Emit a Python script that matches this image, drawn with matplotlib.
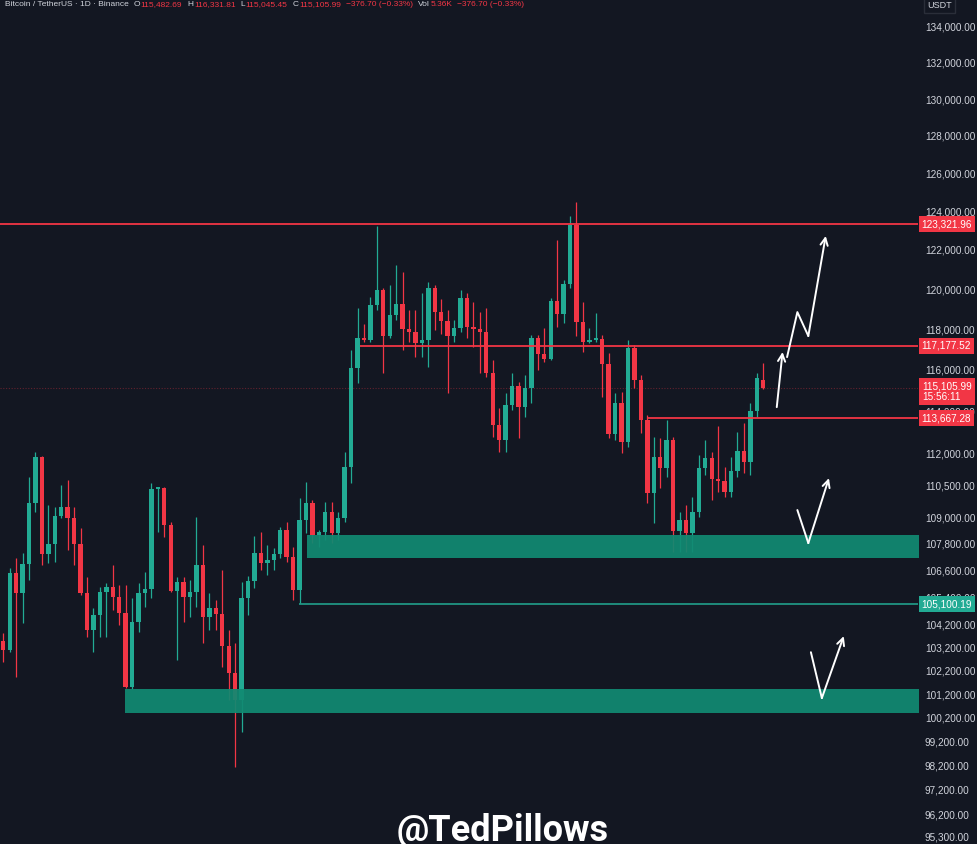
import numpy as np
import matplotlib.pyplot as plt
from matplotlib.ticker import FixedLocator, FuncFormatter, NullLocator

plt.rcParams['font.family'] = ['Liberation Sans', 'DejaVu Sans']

# BTCUSDT daily candles
opens = [103480, 103090, 106490, 105600, 106890, 109670, 111820, 107340, 107800, 109070,
         109490, 108980, 107800, 105600, 103960, 104620, 105640, 105860, 105420, 104710,
         101500, 104310, 105600, 105770, 110320, 110370, 108660, 105680, 106090, 105420,
         105640, 106850, 104530, 104930, 104670, 103270, 102100, 100950, 105370, 106130,
         107390, 106940, 107070, 107340, 108430, 107210, 105730, 108890, 109670, 108210,
         108350, 109260, 108300, 108980, 111350, 116080, 117560, 117460, 119200, 119960,
         117660, 118700, 119250, 118000, 117860, 117310, 117460, 120060, 118850, 118400,
         117660, 118050, 119560, 118100, 118000, 117860, 115840, 113330, 112620, 114290,
         115210, 114190, 115110, 117560, 116770, 116520, 119400, 118750, 120260, 123300,
         118350, 117360, 117460, 117510, 116280, 112900, 114390, 112520, 117070, 115500,
         113570, 110130, 111820, 111300, 112620, 108390, 108890, 108300, 109260, 111300,
         111770, 110780, 110690, 110180, 111160, 112100, 111580, 114000, 115482.69]
highs = [103830, 106710, 107160, 107390, 110880, 112050, 111850, 109580, 109490, 110510,
         110740, 109490, 108520, 106310, 104930, 105860, 106040, 106850, 105950, 105950,
         105370, 106040, 106530, 110600, 110410, 110410, 108800, 106310, 106310, 106170,
         109030, 107750, 105600, 105280, 106620, 103960, 103400, 106090, 106350, 108160,
         108340, 107750, 107610, 108570, 108800, 107660, 109900, 110650, 109810, 108430,
         109720, 109720, 109260, 112050, 116970, 119050, 118250, 119600, 123250, 120060,
         120210, 121230, 120870, 118950, 118950, 119810, 120360, 120210, 119500, 118950,
         118450, 119960, 119810, 119350, 118850, 119050, 116480, 114150, 114870, 115840,
         115400, 115740, 117710, 117710, 118050, 119560, 122510, 120460, 123750, 124470,
         119350, 118050, 118800, 117710, 116820, 114870, 114920, 117460, 117210, 115740,
         113810, 112760, 112710, 113570, 112760, 109260, 109580, 109950, 111910, 112620,
         112050, 113280, 111350, 111820, 113000, 113430, 114390, 115840, 116331.81]
lows = [102570, 103000, 101930, 104270, 106170, 109260, 106850, 106940, 106980, 108980,
        107520, 106850, 105510, 103660, 103000, 103660, 103660, 104840, 104180, 101450,
        101400, 103880, 104970, 105370, 108340, 108110, 105640, 102660, 104310, 104530,
        104970, 103400, 103960, 103960, 102360, 100945, 98140, 99600, 104620, 105820,
        106620, 106400, 106620, 107160, 106980, 105280, 105150, 108300, 107840, 107660,
        107980, 107840, 107980, 108800, 110600, 115350, 117360, 117360, 118950, 115840,
        117560, 118450, 116970, 117360, 116620, 116620, 116130, 117960, 117760, 114870,
        117360, 117860, 117560, 117120, 115840, 115650, 112760, 112050, 112050, 114050,
        112710, 113710, 114390, 115990, 116380, 116480, 118100, 118300, 120060, 117660,
        116870, 117310, 117360, 114680, 112710, 112620, 112000, 112290, 115110, 112950,
        109670, 108750, 110370, 110880, 107430, 107430, 107430, 107430, 109030, 110970,
        109810, 110180, 109950, 109950, 110880, 111070, 110970, 113710, 115045.45]
closes = [103090, 106490, 105600, 106890, 109670, 111820, 107340, 107800, 109070, 109490,
          108980, 107800, 105600, 103960, 104620, 105640, 105860, 105420, 104710, 101500,
          104310, 105600, 105770, 110320, 110370, 108660, 105680, 106090, 105420, 105640,
          106850, 104530, 104930, 104670, 103270, 102100, 100950, 105370, 106130, 107390,
          106940, 107070, 107340, 108430, 107210, 105730, 108890, 109670, 108210, 108350,
          109260, 108300, 108980, 111350, 116080, 117560, 117460, 119200, 119960, 117660,
          118700, 119250, 118000, 117860, 117310, 117460, 120060, 118850, 118400, 117660,
          118050, 119560, 118100, 118000, 117860, 115840, 113330, 112620, 114290, 115210,
          114190, 115110, 117560, 116770, 116520, 119400, 118750, 120260, 123300, 118350,
          117360, 117460, 117510, 116280, 112900, 114390, 112520, 117070, 115500, 113570,
          110130, 111820, 111300, 112620, 108390, 108890, 108300, 109260, 111300, 111770,
          110780, 110690, 110180, 111160, 112100, 111580, 114000, 115600, 115105.99]

y_ticks = [134000, 132000, 130000, 128000, 126000, 124000, 122000, 120000, 118000, 116000,
           114000, 112000, 110500, 109000, 107800, 106600, 105400, 104200, 103200, 102200,
           101200, 100200, 99200, 98200, 97200, 96200, 95300]

# levels drawn on the chart
res_top = 123321.96
res_mid = 117177.52
res_low = 113667.28
last_price = 115105.99
sup_line = 105100.19
zone_hi = (107160, 108200)
zone_lo = (100390, 101410)

# hand drawn arrows (candle index, price)
arrow_a = [(120.1, 114190), (121.0, 116870)]
arrow_b = [(121.7, 116620), (123.3, 118850), (125.0, 117660), (127.7, 122720)]
arrow_c = [(123.3, 109350), (125.0, 107840), (128.2, 110830)]
arrow_d = [(125.4, 103000), (127.1, 101030), (130.5, 103700)]

bg = '#131722'
up = '#22ab94'
down = '#f23645'
zone = '#118a72'
grey = '#d1d4dc'
W, H = 978, 844

fig = plt.figure(figsize=(W / 100, H / 100), dpi=100, facecolor=bg)
ax = fig.add_axes([0, 0, 918 / W, 1])
ax.set_facecolor(bg)
for s in ax.spines.values():
    s.set_visible(False)

o = np.array(opens); h = np.array(highs); l = np.array(lows); c = np.array(closes)
x = np.arange(len(o))
cols = np.where(c >= o, up, down)
bottom = np.minimum(o, c)
height = np.maximum(np.abs(c - o), bottom * 0.0009)
ax.vlines(x, l, h, colors=cols, lw=0.9, zorder=3)
ax.bar(x, height, bottom=bottom, width=0.68, color=cols, zorder=4, linewidth=0)

ax.set_yscale('log')
ax.set_ylim(95014, 135531)
ax.set_xlim(-0.51, 142.03)

# levels
ax.axhline(res_top, color=down, lw=1.3, zorder=5)
ax.hlines(res_mid, 55.4, 143, color=down, lw=1.3, zorder=5)
ax.hlines(res_low, 99.9, 143, color=down, lw=1.3, zorder=5)
ax.axhline(last_price, color=down, lw=0.8, ls=(0, (1, 1.5)), alpha=0.35, zorder=2)
ax.hlines(sup_line, 45.9, 143, color=up, lw=1.1, zorder=5)
ax.fill_between([47.2, 143], zone_hi[0], zone_hi[1], color=zone, lw=0, alpha=0.93, zorder=5)
ax.fill_between([18.9, 143], zone_lo[0], zone_lo[1], color=zone, lw=0, alpha=0.93, zorder=5)

# arrows
for path in [arrow_a, arrow_b, arrow_c, arrow_d]:
    px, py = zip(*path)
    if len(path) > 2:
        ax.plot(px[:-1], py[:-1], color='white', lw=1.4, zorder=6, solid_capstyle='round')
    ax.annotate('', xy=path[-1], xytext=path[-2],
                arrowprops=dict(arrowstyle='->', color='white', lw=1.4,
                                mutation_scale=13, shrinkA=0, shrinkB=0), zorder=6)

# price axis
ax.yaxis.tick_right()
ax.yaxis.set_major_locator(FixedLocator(y_ticks))
ax.yaxis.set_minor_locator(NullLocator())
ax.yaxis.set_major_formatter(FuncFormatter(lambda v, p: f'{v:,.2f}'))
ax.tick_params(axis='y', length=0, pad=5, labelsize=7.2, labelcolor=grey)
ax.set_xticks([])

ytr = ax.get_yaxis_transform()
tag_kw = dict(transform=ytr, ha='left', va='center', color='white', fontsize=7.2,
              clip_on=False, zorder=10)
for val in [res_top, res_mid, res_low]:
    ax.text(1.004, val, f'{val:,.2f}',
            bbox=dict(boxstyle='square,pad=0.3', fc=down, ec='none'), **tag_kw)
ax.text(1.004, sup_line, f'{sup_line:,.2f}',
        bbox=dict(boxstyle='square,pad=0.3', fc=up, ec='none'), **tag_kw)
ax.annotate(f'{last_price:,.2f}\n15:56:11', xy=(1.0, last_price), xycoords=ytr,
            xytext=(3, 5), textcoords='offset points', ha='left', va='top',
            color='white', fontsize=7.2, linespacing=1.05, annotation_clip=False,
            bbox=dict(boxstyle='square,pad=0.3', fc=down, ec='none'), zorder=10)

fig.text(927 / W, 1 - 5 / H, 'USDT', color=grey, fontsize=6.5, va='center',
         bbox=dict(boxstyle='square,pad=0.35', fc=bg, ec='#2a2e39'))

# header, each piece placed right after the previous one
hdr = [('Bitcoin / TetherUS · 1D · Binance', grey, 0),
       ('O', grey, 3.5), ('115,482.69', down, 0.5),
       ('H', grey, 3.5), ('116,331.81', down, 0.5),
       ('L', grey, 3.5), ('115,045.45', down, 0.5),
       ('C', grey, 3.5), ('115,105.99', down, 0.5),
       ('−376.70 (−0.33%)', down, 3.5),
       ('Vol', grey, 3.5), ('5.36K', down, 0.5),
       ('−376.70 (−0.33%)', down, 3.5)]
prev = fig.text(5 / W, 1 - 5 / H, hdr[0][0], color=hdr[0][1], fontsize=6,
                va='center', ha='left')
for txt, col, gap in hdr[1:]:
    prev = ax.annotate(txt, xy=(1, 0.5), xycoords=prev, xytext=(gap, 0),
                       textcoords='offset points', va='center', ha='left',
                       color=col, fontsize=6, annotation_clip=False)

fig.text(503 / W, 3 / H, '@TedPillows', color='white', fontsize=26, fontweight='bold',
         family=['Roboto', 'DejaVu Sans'], ha='center', va='baseline')

fig.savefig('out.png', dpi=100, facecolor=bg)
